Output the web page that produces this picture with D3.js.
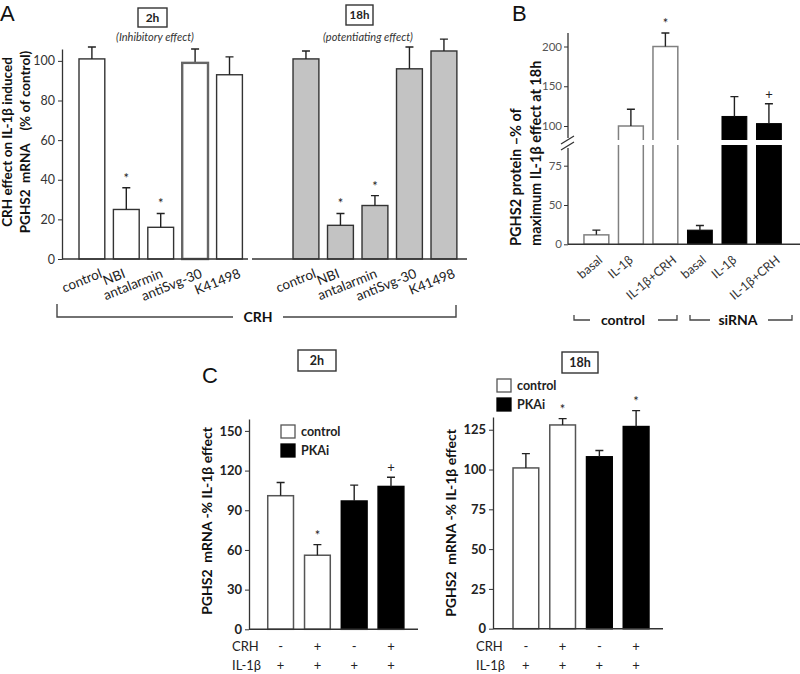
<!DOCTYPE html>
<html><head><meta charset="utf-8">
<script src="https://cdn.jsdelivr.net/npm/d3@7"></script>
<style>body{margin:0;background:#fff}svg{display:block}</style>
</head><body><svg id="c" width="800" height="674"></svg>
<script>
// ---------------- DATA ----------------
// Panel A
const catsA = ["control","NBI","antalarmin","antiSvg-30","K41498"];
const valsA2h = [101, 25, 16, 99, 93];
const errA2h  = [6, 11, 7, 7, 9];
const sigA2h  = ["", "*", "*", "", ""];
const valsA18h = [101, 17, 27, 96, 105];
const errA18h  = [4, 6, 5, 11, 6];
const sigA18h  = ["", "*", "*", "", ""];
const ticksA = [0, 20, 40, 60, 80, 100];
// Panel B
const catsB = ["basal", "IL-1β", "IL-1β+CRH"];
const groupsB = ["control", "siRNA"];
const valsBcontrol = [12, 100, 200];
const errBcontrol  = [6, 21, 17];
const sigBcontrol  = ["", "", "*"];
const valsBsiRNA = [18, 112, 103];
const errBsiRNA  = [6, 25, 25];
const sigBsiRNA  = ["", "", "+"];
const ticksB = [0, 50, 75, 100, 150, 200];
// Panel C
const crhC  = ["-", "+", "-", "+"];
const il1bC = ["+", "+", "+", "+"];
const seriesC = ["control", "control", "PKAi", "PKAi"];
const valsC2h = [101, 56, 97, 108];
const errC2h  = [10, 8, 12, 7];
const sigC2h  = ["", "*", "", "+"];
const valsC18h = [101, 128, 108, 127];
const errC18h  = [9, 4, 4, 10];
const sigC18h  = ["", "*", "", "*"];
const ticksC2h  = [0, 30, 60, 90, 120, 150];
const ticksC18h = [0, 25, 50, 75, 100, 125];

// ---------------- LAYOUT / STYLE ----------------
const FONT = 'Lato, "Open Sans", sans-serif';
const LETTER = '"Liberation Sans", Arial, sans-serif';
const labelDxA = [11, 0, 3, 8, 12];
const labelDxB = [7, 3, 12];
const svg = d3.select("#c").style("font-family", FONT);

function drawBars(g, x, y, cats, vals, errs, sigs, fillF, strokeF, sw) {
  const d = cats.map((c, i) => ({c, i, v: vals[i], e: errs[i], s: sigs[i]}));
  const bw = x.bandwidth();
  g.selectAll(null).data(d).join("rect")
    .attr("x", p => x(p.c)).attr("y", p => y(p.v))
    .attr("width", bw).attr("height", p => y(0) - y(p.v))
    .attr("fill", p => fillF(p.i)).attr("stroke", p => strokeF(p.i)).attr("stroke-width", sw);
  g.selectAll(null).data(d).join("path")
    .attr("d", p => {
      const cx = x(p.c) + bw / 2, t = y(p.v + p.e);
      return `M${cx},${y(p.v)}V${t}M${cx - 4},${t}H${cx + 4}`;
    })
    .attr("stroke", "#222").attr("stroke-width", 1.4).attr("fill", "none");
  g.selectAll(null).data(d.filter(p => p.s)).join("text")
    .attr("x", p => x(p.c) + bw / 2).attr("y", p => y(p.v + p.e) - 5)
    .attr("text-anchor", "middle").attr("font-size", 13).attr("fill", "#222")
    .text(p => p.s);
}

function styleAxis(ax, size, weight, color) {
  ax.selectAll("text").attr("font-size", size).attr("font-weight", weight).attr("fill", color).attr("font-family", FONT);
  ax.selectAll("line").attr("stroke", "#333");
  ax.select(".domain").attr("stroke", "#333").attr("stroke-width", 1.3);
}

function headerBox(x, y, w, h, label, size) {
  svg.append("rect").attr("x", x).attr("y", y).attr("width", w).attr("height", h)
    .attr("fill", "#fff").attr("stroke", "#333").attr("stroke-width", 1.4);
  svg.append("text").attr("x", x + w / 2).attr("y", y + h / 2 + size * 0.36)
    .attr("text-anchor", "middle").attr("font-size", size).attr("font-weight", "bold").attr("fill", "#222").text(label);
}

function vLabel(x, y, txt, size, anchor) {
  svg.append("text").attr("transform", `translate(${x},${y}) rotate(-90)`)
    .attr("text-anchor", anchor || "middle").attr("font-size", size).attr("font-weight", "bold").attr("fill", "#111")
    .attr("xml:space", "preserve").text(txt);
}

// ---------------- PANEL A ----------------
svg.append("text").attr("x", 0).attr("y", 21).attr("font-family", LETTER).attr("font-size", 22).attr("fill", "#111").text("A");
const yA = d3.scaleLinear().domain([0, 106]).range([259, 49]);
const xA2 = d3.scaleBand().domain(catsA).range([70.4, 251]).padding(0.25);
const xA18 = d3.scaleBand().domain(catsA).range([284.4, 465.5]).padding(0.25);

const axA = svg.append("g").attr("transform", "translate(62,0)")
  .call(d3.axisLeft(yA).tickValues(ticksA).tickSize(4).tickSizeOuter(0).tickPadding(3));
styleAxis(axA, 12.5, "normal", "#333");

drawBars(svg.append("g"), xA2, yA, catsA, valsA2h, errA2h, sigA2h,
  () => "#fff", i => i === 3 ? "#777" : "#333", 1.4);
drawBars(svg.append("g"), xA18, yA, catsA, valsA18h, errA18h, sigA18h,
  () => "#c3c3c3", () => "#333", 1.4);
// antiSvg-30 (2h) thicker outline
svg.append("rect").attr("x", xA2("antiSvg-30")).attr("y", yA(valsA2h[3])).attr("width", xA2.bandwidth())
  .attr("height", yA(0) - yA(valsA2h[3])).attr("fill", "none").attr("stroke", "#666").attr("stroke-width", 2.4);

svg.append("line").attr("x1", 62).attr("x2", 248).attr("y1", yA(0)).attr("y2", yA(0)).attr("stroke", "#333").attr("stroke-width", 1.5);
svg.append("line").attr("x1", 252).attr("x2", 467).attr("y1", yA(0)).attr("y2", yA(0)).attr("stroke", "#333").attr("stroke-width", 1.5);

[xA2, xA18].forEach(x => {
  svg.append("g").selectAll("text").data(catsA).join("text")
    .attr("transform", (c, i) => `translate(${x(c) + x.bandwidth() / 2 + labelDxA[i]},${yA(0) + 18}) rotate(-22)`)
    .attr("text-anchor", "end").attr("font-size", 13.5).attr("fill", "#222").text(c => c);
});

headerBox(138, 8, 29, 19, "2h", 12);
svg.append("text").attr("x", 155).attr("y", 41).attr("text-anchor", "middle").attr("font-size", 11)
  .attr("font-style", "italic").attr("fill", "#333").text("(Inhibitory effect)");
headerBox(346, 5, 27, 20, "18h", 11.5);
svg.append("text").attr("x", 368).attr("y", 41).attr("text-anchor", "middle").attr("font-size", 11)
  .attr("font-style", "italic").attr("fill", "#333").text("(potentiating effect)");

vLabel(12, 142, "CRH effect on IL-1β induced", 13.5);
vLabel(30, 142, "PGHS2  mRNA    (% of control)", 13.5);

// CRH bracket
svg.append("path").attr("d", "M57,304V317H233M283,317H456V305").attr("fill", "none").attr("stroke", "#444").attr("stroke-width", 1.4);
svg.append("text").attr("x", 258).attr("y", 322).attr("text-anchor", "middle").attr("font-size", 14)
  .attr("font-weight", "bold").attr("fill", "#111").text("CRH");

// ---------------- PANEL B ----------------
svg.append("text").attr("x", 512).attr("y", 21).attr("font-family", LETTER).attr("font-size", 22).attr("fill", "#111").text("B");
const yB = d3.scaleLinear().domain([0, 50, 75, 100, 217]).range([244.3, 205, 165.7, 126, 33]);
const slotsB = groupsB.flatMap(g => catsB.map(c => g + "|" + c));
const xB = d3.scaleBand().domain(slotsB).range([574.3, 791]).padding(0.28);
const axB = svg.append("g").attr("transform", "translate(568,0)")
  .call(d3.axisLeft(yB).tickValues(ticksB).tickSize(4).tickSizeOuter(0).tickPadding(2));
styleAxis(axB, 11.5, "normal", "#555");
axB.select(".domain").remove();
svg.append("path").attr("d", `M568,${yB(0)}V148M568,138V${yB(217)}`).attr("stroke", "#333").attr("stroke-width", 1.3).attr("fill", "none");

drawBars(svg.append("g"), xB, yB, catsB.map(c => "control|" + c), valsBcontrol, errBcontrol, sigBcontrol,
  () => "#fff", () => "#808080", 1.5);
drawBars(svg.append("g"), xB, yB, catsB.map(c => "siRNA|" + c), valsBsiRNA, errBsiRNA, sigBsiRNA,
  () => "#000", () => "#000", 1);
// axis break
svg.append("rect").attr("x", 575).attr("y", 140).attr("width", 215).attr("height", 5).attr("fill", "#fff");
svg.append("path").attr("d", "M561,144L574,136M561,150L574,142").attr("stroke", "#333").attr("stroke-width", 1.3);
svg.append("line").attr("x1", 568).attr("x2", 800).attr("y1", yB(0)).attr("y2", yB(0)).attr("stroke", "#333").attr("stroke-width", 1.5);

svg.append("g").selectAll("text").data(slotsB).join("text")
  .attr("transform", (s, i) => `translate(${xB(s) + xB.bandwidth() / 2 + labelDxB[i % 3]},${yB(0) + 17}) rotate(-40)`)
  .attr("text-anchor", "end").attr("font-size", 12.5).attr("fill", "#333").text(s => s.split("|")[1]);

vLabel(521, 246, "PGHS2 protein –% of", 14.5, "start");
vLabel(541, 246, "maximum IL-1β effect at 18h", 14.5, "start");

// group brackets
const bracketB = [[574, 590, 658, 677, 623], [690, 710, 768, 792, 738]];
bracketB.forEach((b, i) => {
  svg.append("path").attr("d", `M${b[0]},315V320H${b[1]}M${b[2]},320H${b[3]}V315`).attr("fill", "none").attr("stroke", "#444").attr("stroke-width", 1.3);
  svg.append("text").attr("x", b[4]).attr("y", 325).attr("text-anchor", "middle").attr("font-size", 14)
    .attr("font-weight", "bold").attr("fill", "#111").text(groupsB[i]);
});

// ---------------- PANEL C ----------------
svg.append("text").attr("x", 202).attr("y", 383).attr("font-family", LETTER).attr("font-size", 22).attr("fill", "#111").text("C");
const slotsC = crhC.map((c, i) => "s" + i);
const fillC = i => seriesC[i] === "PKAi" ? "#000" : "#fff";
const strokeC = i => seriesC[i] === "PKAi" ? "#000" : "#555";

function panelC(axisX, yScale, ticks, rangeX, baseEnd, vals, errs, sigs, labelX, labelY, crhX) {
  const x = d3.scaleBand().domain(slotsC).range(rangeX).padding(0.3);
  const ax = svg.append("g").attr("transform", `translate(${axisX},0)`)
    .call(d3.axisLeft(yScale).tickValues(ticks).tickSize(4).tickSizeOuter(0).tickPadding(3));
  styleAxis(ax, 13, "bold", "#222");
  drawBars(svg.append("g"), x, yScale, slotsC, vals, errs, sigs, fillC, strokeC, 1.5);
  svg.append("line").attr("x1", axisX).attr("x2", baseEnd).attr("y1", yScale(0)).attr("y2", yScale(0)).attr("stroke", "#333").attr("stroke-width", 1.5);
  vLabel(labelX, labelY, "PGHS2  mRNA -% IL-1β effect", 14);
  const rows = [["CRH", crhC, yScale(0) + 22], ["IL-1β", il1bC, yScale(0) + 41]];
  rows.forEach(([name, arr, yy]) => {
    svg.append("text").attr("x", crhX).attr("y", yy).attr("font-size", 13).attr("fill", "#222").text(name);
    svg.append("g").selectAll("text").data(arr).join("text")
      .attr("x", (s, i) => x(slotsC[i]) + x.bandwidth() / 2).attr("y", yy)
      .attr("text-anchor", "middle").attr("font-size", 13).attr("fill", "#222").text(s => s);
  });
}
const yC2 = d3.scaleLinear().domain([0, 159]).range([629.3, 419]);
const yC18 = d3.scaleLinear().domain([0, 133]).range([628.7, 417]);
panelC(249, yC2, ticksC2h, [256.7, 414.9], 418, valsC2h, errC2h, sigC2h, 212, 521, 232);
panelC(493, yC18, ticksC18h, [502, 660], 663, valsC18h, errC18h, sigC18h, 456, 523, 476);

headerBox(298, 350, 38, 21, "2h", 12.5);
headerBox(562, 352, 36, 21, "18h", 12.5);

// legends
function legend(x, y) {
  const items = ["control", "PKAi"];
  items.forEach((it, i) => {
    svg.append("rect").attr("x", x).attr("y", y + i * 19).attr("width", 14).attr("height", 13)
      .attr("fill", it === "PKAi" ? "#000" : "#fff").attr("stroke", it === "PKAi" ? "#000" : "#555").attr("stroke-width", 1.3);
    svg.append("text").attr("x", x + 20).attr("y", y + i * 19 + 11).attr("font-size", 12.5)
      .attr("font-weight", "bold").attr("fill", "#222").text(it);
  });
}
legend(281, 425);
legend(497, 379);
</script></body></html>
